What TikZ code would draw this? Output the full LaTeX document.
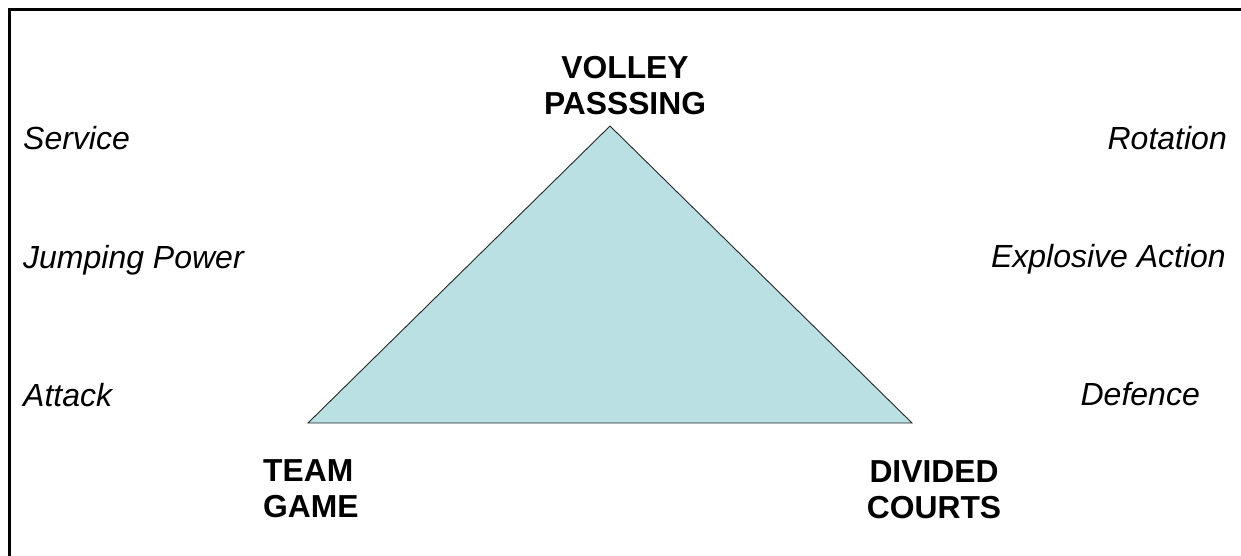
\documentclass[tikz,border=0pt]{standalone}
\usepackage{fontspec}
\setmainfont{Liberation Sans}
\definecolor{tri}{RGB}{186,224,227}
\begin{document}
\begin{tikzpicture}[x=1pt,y=-1pt,
  corner/.style={font=\fontsize{31.8}{36}\selectfont\bfseries, inner sep=0pt, anchor=north},
  side/.style={font=\fontsize{32}{36}\selectfont\itshape, inner sep=0pt}]
\useasboundingbox (0,0) rectangle (1241,556);
\clip (0,0) rectangle (1241,556);
\fill[white] (0,0) rectangle (1241,556);
\draw[line width=3pt] (9.5,9.5) rectangle (1270,590);
% triangle
\coordinate (apex) at (610,126);
\coordinate (bl) at (308,423);
\coordinate (br) at (912,423);
\draw[fill=tri, draw=black!85, line width=0.9pt, line join=miter] (apex) -- (bl) -- (br) -- cycle;
% corner labels
\node[corner, align=center] (vp) at (625,56) {VOLLEY\\PASSSING};
\node[corner, align=left, anchor=north west] (tg) at (263,459) {TEAM\\GAME};
\node[corner, align=center] (dc) at (934,460) {DIVIDED\\COURTS};
% side labels
\node[side, anchor=base west] (serv) at (23,150) {Service};
\node[side, anchor=base west] (jump) at (23,268) {Jumping Power};
\node[side, anchor=base west] (att) at (23,406) {Attack};
\node[side, anchor=base east] (rot) at (1227,150) {Rotation};
\node[side, anchor=base east] (expl) at (1226,267) {Explosive Action};
\node[side, anchor=base east] (def) at (1200,405) {Defence};
\end{tikzpicture}
\end{document}
